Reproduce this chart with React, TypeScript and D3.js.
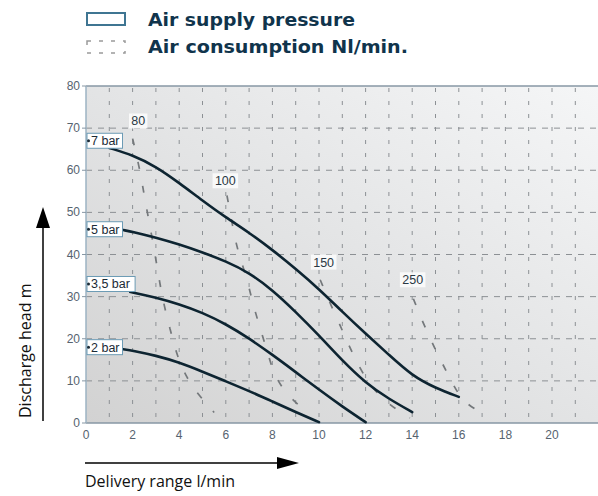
import React from "react";
import * as d3 from "d3";

// pressure curves: [delivery l/min, head m]
const bar7 = [[1, 65.3], [2, 63.6], [3, 60.9], [4, 57], [5, 52.8], [6, 48.8], [7, 45.2], [8, 41.1], [9, 36.6], [10, 31.8], [11, 26.4], [12, 21.2], [13, 16.2], [14, 11.2], [15, 8.3], [16, 6.2]];
const bar5 = [[1.6, 45.8], [2, 45.4], [3, 44], [4, 42.4], [5, 40.5], [6, 38.4], [7, 35.7], [8, 31.6], [9, 26.4], [10, 20.8], [11, 14.8], [12, 9.5], [13, 5.7], [14, 2.6]];
const bar35 = [[1.9, 31.1], [2, 31], [3, 29.8], [4, 28.2], [5, 26.2], [6, 23.5], [7, 20.1], [8, 16.2], [9, 12.1], [10, 7.9], [11, 3.9], [12, 0.2]];
const bar2 = [[1.6, 17.5], [2, 17.2], [3, 16], [4, 14.4], [5, 12.2], [6, 9.9], [7, 7.6], [8, 5.1], [9, 2.6], [10, 0.2]];

const pressureNames = ["7 bar", "5 bar", "3,5 bar", "2 bar"];
const pressureLabelY = [67, 46, 33, 18];
const pressureCurves = [bar7, bar5, bar35, bar2];

// air consumption curves (Nl/min)
const air80 = [[2, 67.5], [2.3, 60.5], [2.5, 54], [2.7, 48], [2.9, 42], [3.1, 35.5], [3.3, 29], [3.6, 22.5], [3.9, 16], [4.3, 11], [4.7, 7.5], [5.5, 2.5]];
const air100 = [[6.05, 54], [6.3, 46.5], [6.5, 41], [6.9, 34.5], [7.15, 28.5], [7.5, 22], [7.85, 15.7], [8.1, 11], [8.7, 6.2], [9.6, 2]];
const air150 = [[10.05, 34], [10.55, 27.5], [11.05, 21.4], [11.5, 15.7], [12.1, 9.5], [12.9, 4.7], [13.9, 1.2]];
const air250 = [[14.05, 29.5], [14.5, 23.3], [15, 17.3], [15.5, 11.9], [16, 6.5], [16.5, 3.8], [17.2, 1.9]];

const airNames = ["80", "100", "150", "250"];
const airLabelPos = [[2.24, 71.7], [5.98, 57.5], [10.2, 38.2], [14.02, 34]];
const airCurves = [air80, air100, air150, air250];

const xTicks = [0, 2, 4, 6, 8, 10, 12, 14, 16, 18, 20];
const yTicks = [0, 10, 20, 30, 40, 50, 60, 70, 80];
const xGrid = d3.range(1, 22);

const W = 598;
const H = 496;

export default function App() {
  const x = d3.scaleLinear().domain([0, 20]).range([86, 552]);
  const y = d3.scaleLinear().domain([0, 80]).range([423, 86]);
  const smooth = d3.line<number[]>().x(d => x(d[0])).y(d => y(d[1])).curve(d3.curveBasis);
  const tickFont = "'Liberation Sans', Arial, sans-serif";
  const legendFont = "'DejaVu Sans', Verdana, sans-serif";

  return (
    <svg width={W} height={H} style={{ position: "absolute", left: 0, top: 0, background: "#fff" }}>
      <defs>
        <linearGradient id="bg" x1="1" y1="0" x2="0" y2="1">
          <stop offset="0" stopColor="#f5f6f7" />
          <stop offset="0.5" stopColor="#e3e4e5" />
          <stop offset="1" stopColor="#d2d2d2" />
        </linearGradient>
      </defs>

      {/* legend */}
      <rect x={87} y={13} width={38} height={12} fill="#fff" stroke="#3f7592" strokeWidth={2} />
      <text x={148} y={26} fontFamily={legendFont} fontSize={18.5} fontWeight={600} fill="#10344c" textLength={207} lengthAdjust="spacingAndGlyphs">Air supply pressure</text>
      <rect x={87} y={41} width={38} height={12} fill="none" stroke="#9a9a9a" strokeWidth={1.5} strokeDasharray="4,8" />
      <text x={148} y={53} fontFamily={legendFont} fontSize={18.5} fontWeight={600} fill="#10344c" textLength={260} lengthAdjust="spacingAndGlyphs">Air consumption Nl/min.</text>

      {/* plot background */}
      <rect x={86} y={86} width={W - 86} height={423 - 86} fill="url(#bg)" />

      {/* grid */}
      {yTicks.filter(t => t > 0 && t < 80).map(t => (
        <line key={"h" + t} x1={86} x2={W} y1={y(t)} y2={y(t)} stroke="#8c9094" strokeWidth={1} strokeDasharray="6,6" />
      ))}
      {xGrid.map(t => (
        <line key={"v" + t} x1={x(t)} x2={x(t)} y1={88} y2={423} stroke="#8c9094" strokeWidth={1} strokeDasharray="4,9" />
      ))}

      {/* axes */}
      <line x1={86} x2={W} y1={86} y2={86} stroke="#8797a4" strokeWidth={1.5} />
      <line x1={86} x2={W} y1={423} y2={423} stroke="#8797a4" strokeWidth={1.5} />
      <line x1={86} x2={86} y1={86} y2={423} stroke="#9db3c3" strokeWidth={1.5} />
      {yTicks.map(t => (
        <g key={"yt" + t}>
          <line x1={82} x2={86} y1={y(t)} y2={y(t)} stroke="#8797a4" />
          <text x={80} y={y(t) + 4} textAnchor="end" fontFamily={tickFont} fontSize={12} fill="#56636f">{t}</text>
        </g>
      ))}
      {xTicks.map(t => (
        <text key={"xt" + t} x={x(t)} y={439} textAnchor="middle" fontFamily={tickFont} fontSize={12} fill="#56636f">{t}</text>
      ))}

      {/* air consumption */}
      {airCurves.map((c, i) => (
        <path key={"a" + i} d={smooth(c) || ""} fill="none" stroke="#74787b" strokeWidth={1.7} strokeDasharray="7,17" />
      ))}
      {airNames.map((n, i) => (
        <g key={"al" + i}>
          <rect x={x(airLabelPos[i][0]) - n.length * 3.6 - 2} y={y(airLabelPos[i][1]) - 7.5} width={n.length * 7.2 + 4} height={15} fill="#fbfbfb" opacity={0.9} />
          <text x={x(airLabelPos[i][0])} y={y(airLabelPos[i][1]) + 4.5} textAnchor="middle" fontFamily={tickFont} fontSize={12.5} fill="#2a3844">{n}</text>
        </g>
      ))}

      {/* pressure curves */}
      {pressureCurves.map((c, i) => (
        <path key={"p" + i} d={smooth(c) || ""} fill="none" stroke="#0d2431" strokeWidth={2.6} strokeLinecap="round" />
      ))}
      {pressureNames.map((n, i) => {
        const w = n.length * 6.3 + 4;
        const cy = y(pressureLabelY[i]);
        return (
          <g key={"pl" + i}>
            <rect x={87} y={cy - 7.5} width={w} height={15} fill="#fff" stroke="#6c9bb5" strokeWidth={1} />
            <circle cx={88.5} cy={cy} r={1.5} fill="#1a2a36" />
            <text x={91} y={cy + 4.5} fontFamily={tickFont} fontSize={12.5} fill="#1a2a36">{n}</text>
          </g>
        );
      })}

      {/* axis titles with arrows */}
      <line x1={43} x2={43} y1={421} y2={220} stroke="#000" strokeWidth={1.5} />
      <path d="M43,207 L50,228 L36,228 Z" fill="#000" />
      <text transform="translate(31,418) rotate(-90)" fontFamily="'Open Sans', 'Noto Sans', sans-serif" fontSize={16} fill="#111">Discharge head m</text>

      <line x1={85} x2={285} y1={463} y2={463} stroke="#000" strokeWidth={1.5} />
      <path d="M299,463 L277,457 L277,469 Z" fill="#000" />
      <text x={85} y={487} fontFamily="'Open Sans', 'Noto Sans', sans-serif" fontSize={16} fill="#111">Delivery range l/min</text>
    </svg>
  );
}
